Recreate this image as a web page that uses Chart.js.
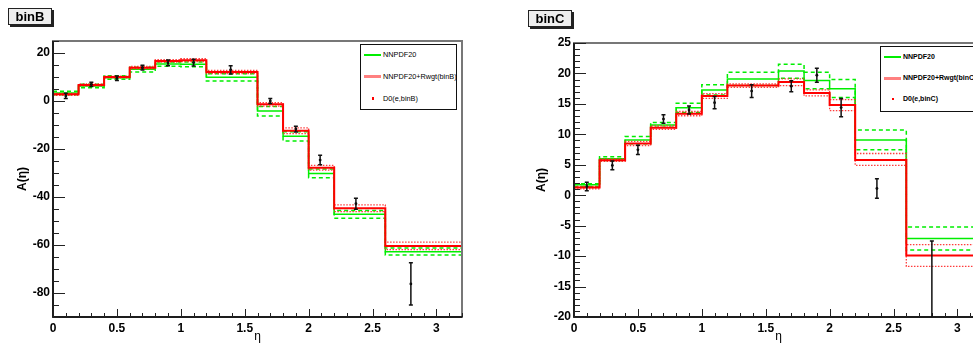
<!DOCTYPE html>
<html>
<head>
<meta charset="utf-8">
<script src="https://cdn.jsdelivr.net/npm/chart.js@4.4.0/dist/chart.umd.min.js"></script>
<style>
  html, body { margin: 0; padding: 0; background: #fff; }
  body { position: relative; width: 973px; height: 343px; overflow: hidden; font-family: "Liberation Sans", Arial, sans-serif; }
  canvas { position: absolute; top: 0; }
  #cB { left: 0; }
  #cC { left: 490px; }
  .pave { position: absolute; width: 44px; height: 17px; box-sizing: border-box; border: 1px solid #222;
          background: #eeeeee; box-shadow: 2px 2px 0 #222; font: bold 13px "Liberation Sans", Arial, sans-serif;
          line-height: 15px; text-align: center; color: #000; }
  .leg { position: absolute; height: 66px; box-sizing: border-box; border: 1.5px solid #111; background: #fff; }
  .leg .t { position: absolute; white-space: nowrap; line-height: 8px; transform: translateY(-50%); color: #000; }
  .leg .s { position: absolute; }
</style>
</head>
<body>
<canvas id="cB" width="486" height="343"></canvas>
<canvas id="cC" width="510" height="343"></canvas>

<div class="pave" style="left:8px; top:8px;">binB</div>
<div class="pave" style="left:528px; top:10px;">binC</div>

<div class="leg" id="legB" style="left:360px; top:44px; width:97px;"></div>
<div class="leg" id="legC" style="left:880px; top:46px; width:120px;"></div>

<script>
// eta bins of the histograms and the D0 measurement points
const binEdges = [0, 0.2, 0.4, 0.6, 0.8, 1.0, 1.2, 1.6, 1.8, 2.0, 2.2, 2.6, 3.2];
const etaPoints = [0.1, 0.3, 0.5, 0.7, 0.9, 1.1, 1.39, 1.7, 1.9, 2.09, 2.37, 2.8];
const xTicks = [0, 0.5, 1, 1.5, 2, 2.5, 3];

// binB
const nnpdfB    = [3.3, 6.2, 9.7, 13.2, 15.4, 15.3, 9.9, -4.2, -14.7, -30.2, -47.2, -62.8];
const nnpdfB_hi = [4.1, 7.0, 10.5, 14.1, 16.3, 16.2, 11.4, -2.3, -12.8, -28.3, -45.6, -61.3];
const nnpdfB_lo = [2.6, 5.5, 9.1, 12.1, 14.5, 14.3, 8.3, -6.2, -16.7, -32.0, -48.9, -64.2];
const rwgtB     = [2.8, 6.7, 10.0, 13.9, 16.7, 17.0, 12.1, -1.4, -12.4, -27.8, -44.7, -60.4];
const rwgtB_hi  = [3.2, 7.1, 10.4, 14.4, 17.2, 17.6, 12.8, -0.7, -11.2, -26.8, -43.3, -58.8];
const rwgtB_lo  = [2.4, 6.3, 9.6, 13.4, 16.2, 16.4, 11.4, -2.1, -13.6, -28.8, -46.1, -61.9];
const d0B       = [2.1, 6.9, 9.45, 13.9, 15.9, 16.0, 13.0, 0.0, -11.7, -24.6, -42.8, -76.2];
const d0B_err   = [1.1, 0.9, 0.95, 1.0, 1.2, 1.4, 1.7, 1.0, 1.2, 2.0, 2.3, 8.8];
const yTicksB   = [-80, -60, -40, -20, 0, 20];

// binC
const nnpdfC    = [1.7, 6.0, 9.05, 11.55, 14.35, 17.3, 19.1, 20.4, 18.85, 17.5, 9.05, -7.1];
const nnpdfC_hi = [1.9, 6.3, 9.65, 11.95, 15.1, 18.15, 20.2, 21.5, 20.2, 19.0, 10.7, -5.2];
const nnpdfC_lo = [1.45, 5.7, 8.45, 11.15, 13.6, 16.45, 18.0, 19.2, 17.5, 16.05, 7.45, -9.0];
const rwgtC     = [1.25, 5.75, 8.5, 11.1, 13.4, 16.3, 18.0, 18.6, 16.8, 14.8, 5.8, -9.9];
const rwgtC_hi  = [1.45, 5.95, 8.85, 11.4, 13.75, 16.7, 18.3, 19.1, 17.3, 15.7, 6.85, -8.1];
const rwgtC_lo  = [1.05, 5.55, 8.15, 10.8, 13.05, 15.9, 17.7, 18.0, 16.3, 13.9, 4.9, -11.7];
const d0C       = [1.45, 4.9, 7.45, 12.5, 14.0, 15.2, 17.1, 17.9, 19.7, 14.4, 1.1, -30];
const d0C_err   = [0.7, 0.7, 0.75, 0.7, 0.65, 1.0, 1.05, 0.9, 1.15, 1.5, 1.6, 22.5];
const yTicksC   = [-20, -15, -10, -5, 0, 5, 10, 15, 20, 25];

const FONT = '"Liberation Sans", Arial, sans-serif';
Chart.defaults.font.family = FONT;
Chart.defaults.color = '#000';

// histogram -> points for a stepped line
function steps(vals) {
  return binEdges.map((e, i) => ({ x: e, y: vals[Math.min(i, vals.length - 1)] }));
}

function hist(vals, color, width, dash, order) {
  return { type: 'line', data: steps(vals), borderColor: color, borderWidth: width, borderDash: dash,
           stepped: true, pointRadius: 0, fill: false, order: order };
}

// ROOT style frame with ticks drawn inside
const rootFrame = {
  id: 'rootFrame',
  afterDatasetsDraw(chart, args, o) {
    const { ctx, chartArea: a } = chart;
    const x = chart.scales.x, y = chart.scales.y;
    ctx.save();
    ctx.strokeStyle = '#777';
    ctx.lineWidth = 2;
    ctx.strokeRect(a.left, a.top, a.right - a.left, a.bottom - a.top);
    ctx.strokeStyle = '#000';
    ctx.lineWidth = 1.5;
    ctx.beginPath();
    ctx.moveTo(a.left, a.top); ctx.lineTo(a.left, a.bottom); ctx.lineTo(a.right, a.bottom);
    ctx.stroke();

    ctx.lineWidth = 1;
    ctx.strokeStyle = '#222';
    const isMajor = (scale, v) => scale.ticks.some(t => Math.abs(t.value - v) < 1e-6);
    ctx.beginPath();
    for (let k = Math.ceil(x.min / o.xMinor - 1e-9); k * o.xMinor <= x.max + 1e-9; k++) {
      const v = k * o.xMinor;
      const px = Math.round(x.getPixelForValue(v)) + 0.5;
      const len = isMajor(x, v) ? 8 : 4;
      ctx.moveTo(px, a.bottom); ctx.lineTo(px, a.bottom - len);
    }
    for (let k = Math.ceil(y.min / o.yMinor - 1e-9); k * o.yMinor <= y.max + 1e-9; k++) {
      const v = k * o.yMinor;
      const py = Math.round(y.getPixelForValue(v)) + 0.5;
      const len = isMajor(y, v) ? 12 : 6;
      ctx.moveTo(a.left, py); ctx.lineTo(a.left + len, py);
    }
    ctx.stroke();
    ctx.restore();
  }
};

// vertical error bars of the D0 points
const errBars = {
  id: 'errBars',
  afterDatasetsDraw(chart, args, o) {
    const { ctx, chartArea: a } = chart;
    const x = chart.scales.x, y = chart.scales.y;
    ctx.save();
    ctx.beginPath();
    ctx.rect(a.left, a.top, a.right - a.left, a.bottom - a.top);
    ctx.clip();
    ctx.strokeStyle = '#111';
    ctx.lineWidth = 1.5;
    ctx.beginPath();
    o.x.forEach((xv, i) => {
      const px = x.getPixelForValue(xv);
      const top = y.getPixelForValue(o.y[i] + o.err[i]);
      const bot = y.getPixelForValue(o.y[i] - o.err[i]);
      ctx.moveTo(px, top); ctx.lineTo(px, bot);
      ctx.moveTo(px - 2, top); ctx.lineTo(px + 2, top);
      ctx.moveTo(px - 2, bot); ctx.lineTo(px + 2, bot);
    });
    ctx.stroke();
    ctx.restore();
  }
};

function makeChart(id, s) {
  const tickFont = { family: FONT, size: 12, weight: 'bold' };
  return new Chart(document.getElementById(id), {
    data: {
      datasets: [
        { type: 'scatter', data: etaPoints.map((v, i) => ({ x: v, y: s.d0[i] })), pointRadius: 1.4,
          backgroundColor: '#000', borderWidth: 0, order: 0 },
        hist(s.rw, '#ff0000', 2, [], 1),
        hist(s.rwHi, 'rgba(255,40,40,0.9)', 1.3, [1.5, 1.5], 2),
        hist(s.rwLo, 'rgba(255,40,40,0.9)', 1.3, [1.5, 1.5], 2),
        hist(s.nn, '#00ee00', 1.5, [], 3),
        hist(s.nnHi, '#00ee00', 1.5, [4, 3], 4),
        hist(s.nnLo, '#00ee00', 1.5, [4, 3], 4)
      ]
    },
    options: {
      responsive: false,
      animation: false,
      events: [],
      layout: { padding: { top: s.top, right: s.right, left: 0, bottom: 0 } },
      plugins: {
        legend: { display: false },
        tooltip: { enabled: false },
        rootFrame: { xMinor: 0.1, yMinor: s.yMinor },
        errBars: { x: etaPoints, y: s.d0, err: s.err }
      },
      scales: {
        x: {
          type: 'linear', min: 0, max: 3.2,
          afterBuildTicks: sc => { sc.ticks = xTicks.map(v => ({ value: v })); },
          afterFit: sc => { sc.height = 26; },
          grid: { display: false, drawTicks: false }, border: { display: false },
          ticks: { font: tickFont, padding: 4, maxRotation: 0, autoSkip: false, callback: v => String(v) },
          title: { display: true, text: 'η', font: { family: FONT, size: 12 }, padding: { top: 0, bottom: -1 } }
        },
        y: {
          type: 'linear', min: s.yMin, max: s.yMax,
          afterBuildTicks: sc => { sc.ticks = s.yTicks.map(v => ({ value: v })); },
          afterFit: sc => { sc.width = s.yWidth; },
          grid: { display: false, drawTicks: false }, border: { display: false },
          ticks: { font: tickFont, padding: 3, autoSkip: false, callback: v => String(v) },
          title: { display: true, text: 'A(η)', font: { family: FONT, size: 12, weight: 'bold' },
                   padding: { top: s.titlePad, bottom: 0 } }
        }
      }
    },
    plugins: [rootFrame, errBars]
  });
}

makeChart('cB', {
  nn: nnpdfB, nnHi: nnpdfB_hi, nnLo: nnpdfB_lo, rw: rwgtB, rwHi: rwgtB_hi, rwLo: rwgtB_lo,
  d0: d0B, err: d0B_err, yTicks: yTicksB, yMin: -90, yMax: 25, yMinor: 5,
  top: 41, right: 24, yWidth: 53, titlePad: 15
});
makeChart('cC', {
  nn: nnpdfC, nnHi: nnpdfC_hi, nnLo: nnpdfC_lo, rw: rwgtC, rwHi: rwgtC_hi, rwLo: rwgtC_lo,
  d0: d0C, err: d0C_err, yTicks: yTicksC, yMin: -20, yMax: 25, yMinor: 1,
  top: 43, right: 17, yWidth: 84, titlePad: 44
});

// legends
function legend(id, labels, bold, ys) {
  const box = document.getElementById(id);
  const swatches = [
    { left: 3, top: ys[0] - 1, w: 17, h: 2, c: '#00ee00' },
    { left: 3, top: ys[1] - 1.5, w: 17, h: 3, c: '#ff8080' },
    { left: 10.5, top: ys[2] - 1.2, w: 2.5, h: 2.5, c: '#ff0000' }
  ];
  swatches.forEach(sw => {
    const d = document.createElement('div');
    d.className = 's';
    Object.assign(d.style, { left: sw.left + 'px', top: sw.top + 'px', width: sw.w + 'px', height: sw.h + 'px', background: sw.c });
    box.appendChild(d);
  });
  labels.forEach((t, i) => {
    const d = document.createElement('div');
    d.className = 't';
    d.textContent = t;
    d.style.left = '22px';
    d.style.top = ys[i] + 'px';
    d.style.fontFamily = FONT;
    d.style.fontSize = bold ? '7px' : '7.3px';
    d.style.fontWeight = bold ? 'bold' : 'normal';
    box.appendChild(d);
  });
}
legend('legB', ['NNPDF20', 'NNPDF20+Rwgt(binB)', 'D0(e,binB)'], false, [10, 31.5, 53.5]);
legend('legC', ['NNPDF20', 'NNPDF20+Rwgt(binC)', 'D0(e,binC)'], true, [9.5, 31, 52]);
</script>
</body>
</html>
